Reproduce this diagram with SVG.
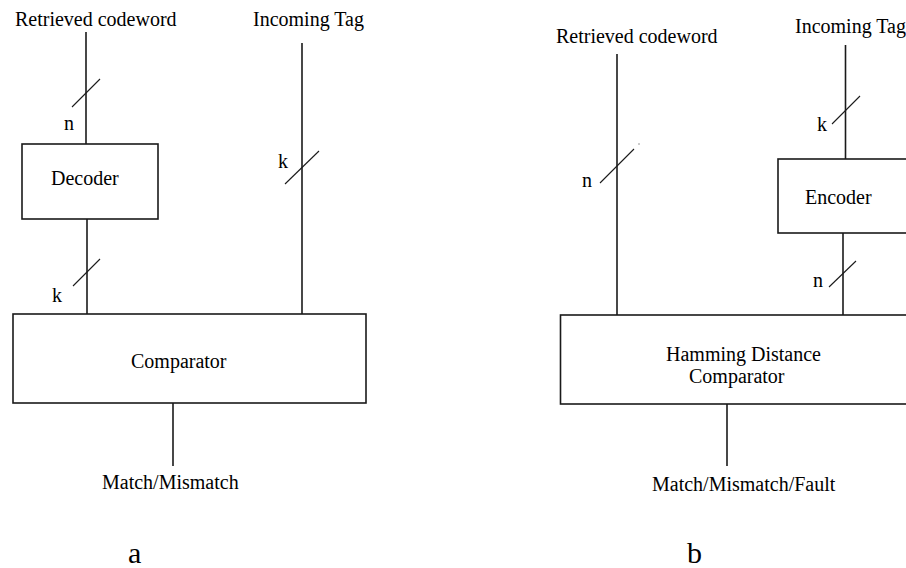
<svg xmlns="http://www.w3.org/2000/svg" width="906" height="568" viewBox="0 0 906 568">
<style>
  text { font-family: "Liberation Serif", "Times New Roman", serif; font-size: 20px; fill: #000; }
  .big { font-size: 30px; }
  .box { fill: #fff; stroke: #1a1a1a; stroke-width: 1.6; }
  .wire { stroke: #1a1a1a; stroke-width: 1.6; fill: none; }
  .bus { stroke: #1a1a1a; stroke-width: 1.1; fill: none; }
</style>
<rect width="906" height="568" fill="#fff"/>

<!-- connectors -->
<g id="connectors">
  <!-- diagram a -->
  <line class="wire" x1="86" y1="32" x2="86" y2="144"/>
  <line class="bus" x1="72" y1="107" x2="100" y2="79"/>
  <line class="wire" x1="87" y1="219" x2="87" y2="314"/>
  <line class="bus" x1="73" y1="286" x2="100" y2="259"/>
  <line class="wire" x1="302" y1="43" x2="302" y2="314"/>
  <line class="bus" x1="285" y1="184" x2="319" y2="151"/>
  <line class="wire" x1="173" y1="403" x2="173" y2="466"/>
  <!-- diagram b -->
  <line class="wire" x1="617" y1="54" x2="617" y2="315"/>
  <line class="bus" x1="600" y1="183" x2="634" y2="149"/>
  <rect x="638.5" y="143.5" width="1" height="1" fill="#333"/>
  <line class="wire" x1="845.5" y1="45" x2="845.5" y2="159"/>
  <line class="bus" x1="832" y1="124" x2="860" y2="96"/>
  <line class="wire" x1="843" y1="233" x2="843" y2="315"/>
  <line class="bus" x1="829" y1="287" x2="856" y2="261"/>
  <line class="wire" x1="727" y1="404" x2="727" y2="466"/>
</g>

<!-- diagram a nodes -->
<g id="a-retrieved">
  <text x="15" y="26">Retrieved codeword</text>
</g>
<g id="a-incoming">
  <text x="253" y="26">Incoming Tag</text>
</g>
<g id="a-decoder">
  <rect class="box" x="22" y="144" width="136" height="75"/>
  <text x="51" y="185">Decoder</text>
</g>
<g id="a-comparator">
  <rect class="box" x="13" y="314" width="353" height="89"/>
  <text x="131" y="368">Comparator</text>
</g>
<g id="a-output">
  <text x="102" y="489">Match/Mismatch</text>
</g>
<g id="a-buslabels">
  <text x="64" y="130">n</text>
  <text x="52" y="302">k</text>
  <text x="278" y="168">k</text>
</g>
<g id="a-caption">
  <text class="big" x="128" y="563">a</text>
</g>

<!-- diagram b nodes -->
<g id="b-retrieved">
  <text x="556" y="43">Retrieved codeword</text>
</g>
<g id="b-incoming">
  <text x="795" y="33">Incoming Tag</text>
</g>
<g id="b-encoder">
  <rect class="box" x="778" y="159" width="140" height="74"/>
  <text x="805" y="204">Encoder</text>
</g>
<g id="b-comparator">
  <rect class="box" x="560.5" y="315" width="360" height="89"/>
  <text x="666" y="361">Hamming Distance</text>
  <text x="689" y="383">Comparator</text>
</g>
<g id="b-output">
  <text x="652" y="491">Match/Mismatch/Fault</text>
</g>
<g id="b-buslabels">
  <text x="582" y="187">n</text>
  <text x="817" y="131">k</text>
  <text x="813" y="287">n</text>
</g>
<g id="b-caption">
  <text class="big" x="687" y="563">b</text>
</g>
</svg>
